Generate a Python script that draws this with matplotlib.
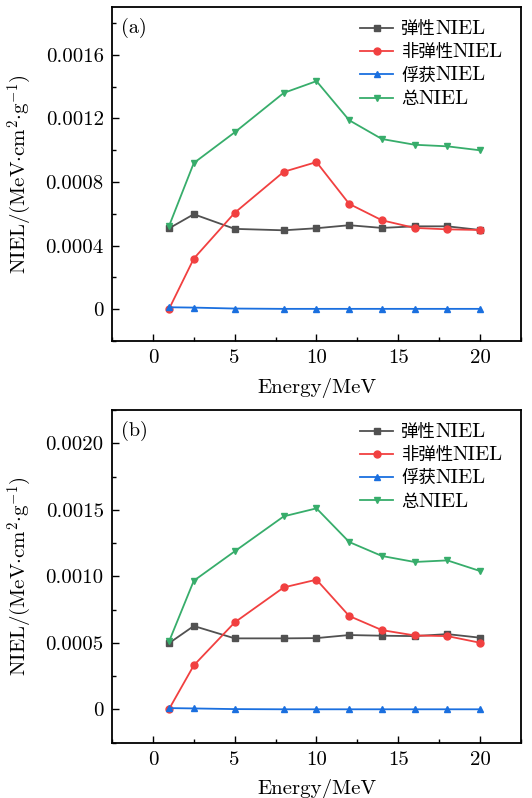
import matplotlib
matplotlib.use("Agg")
import matplotlib.pyplot as plt
from matplotlib.ticker import MultipleLocator, FuncFormatter
from matplotlib.transforms import IdentityTransform

plt.rcParams['font.family'] = ['cmr10', 'DejaVu Serif']
plt.rcParams['mathtext.fontset'] = 'cm'
plt.rcParams['axes.unicode_minus'] = False
plt.rcParams['axes.formatter.use_mathtext'] = True

energy = [1, 2.5, 5, 8, 10, 12, 14, 16, 18, 20]
label_cn = ['弹性', '非弹性', '俘获', '总']
label_suffix = 'NIEL'

# panel (a)
a_elastic = [0.000509, 0.000597, 0.000505, 0.000496, 0.000509, 0.000528, 0.000511, 0.000521, 0.000521, 0.000498]
a_inelastic = [0.000004, 0.000318, 0.000606, 0.000864, 0.000925, 0.000662, 0.000559, 0.000511, 0.000502, 0.000498]
a_capture = [0.000012, 0.000010, 0.000004, 0.000002, 0.000002, 0.000002, 0.000002, 0.000002, 0.000002, 0.000002]
a_total = [0.000526, 0.000919, 0.001112, 0.001360, 0.001434, 0.001188, 0.001070, 0.001034, 0.001024, 0.000999]

# panel (b)
b_elastic = [0.000499, 0.000627, 0.000534, 0.000534, 0.000536, 0.000559, 0.000554, 0.000551, 0.000566, 0.000539]
b_inelastic = [0.000005, 0.000331, 0.000654, 0.000917, 0.000975, 0.000702, 0.000596, 0.000556, 0.000551, 0.000501]
b_capture = [0.000010, 0.0000075, 0.0000025, 0.000001, 0.000001, 0.000001, 0.000001, 0.000001, 0.000001, 0.000001]
b_total = [0.000514, 0.000967, 0.001188, 0.001451, 0.001511, 0.001258, 0.001153, 0.001108, 0.001120, 0.001040]

colors = ['#515151', '#F14040', '#1A6FDF', '#37AD6B']
markers = ['s', 'o', '^', 'v']

fig = plt.figure(figsize=(5.32, 7.98), dpi=100)
ax_a = fig.add_axes([0.2105, 0.5727, 0.7688, 0.4185])
ax_b = fig.add_axes([0.2105, 0.0693, 0.7688, 0.4169])

def fmt(v, pos):
    if abs(v) < 1e-12:
        return '0'
    return '%.4f' % v

panels = [
    (ax_a, [a_elastic, a_inelastic, a_capture, a_total], '(a)', (-0.0002, 0.0019), 0.0004, 0.0002),
    (ax_b, [b_elastic, b_inelastic, b_capture, b_total], '(b)', (-0.00025, 0.00225), 0.0005, 0.00025),
]

legends = []
for ax, series, tag, ylim, major, minor in panels:
    for ys, c, m, lab in zip(series, colors, markers, label_cn):
        ax.plot(energy, ys, color=c, marker=m, markersize=5, linewidth=1.3, label=lab)
    ax.set_xlim(-2.5, 22.5)
    ax.set_ylim(*ylim)
    ax.xaxis.set_major_locator(MultipleLocator(5))
    ax.xaxis.set_minor_locator(MultipleLocator(2.5))
    ax.yaxis.set_major_locator(MultipleLocator(major))
    ax.yaxis.set_minor_locator(MultipleLocator(minor))
    ax.yaxis.set_major_formatter(FuncFormatter(fmt))
    ax.xaxis.set_major_formatter(FuncFormatter(lambda v, p: '%d' % v))
    ax.tick_params(which='both', direction='in', top=False, right=False, labelsize=15, width=1.0)
    ax.tick_params(which='major', length=5, pad=6)
    ax.tick_params(which='minor', length=3)
    for s in ax.spines.values():
        s.set_linewidth(1.3)
    ax.set_xlabel('Energy/MeV', fontsize=15)
    ax.xaxis.set_label_coords(0.5, -0.11)
    ax.set_ylabel(r'NIEL/(MeV$\cdot$cm$^2$$\cdot$g$^{-1}$)', fontsize=15)
    ax.yaxis.set_label_coords(-0.19, 0.5)
    ax.text(0.022, 0.937, tag, transform=ax.transAxes, fontsize=14.5, va='center', ha='left')
    leg = ax.legend(loc='upper left', bbox_to_anchor=(0.59, 0.982), frameon=False,
                    prop={'family': ['Noto Sans CJK SC'], 'size': 12.5},
                    handlelength=1.9, handletextpad=0.45, labelspacing=0.3, borderaxespad=0.0)
    legends.append(leg)

fig.canvas.draw()
renderer = fig.canvas.get_renderer()
for leg in legends:
    for t in leg.get_texts():
        bb = t.get_window_extent(renderer)
        x0, y0 = t.get_transform().transform(t.get_unitless_position())
        fig.text(bb.x1 - 0.5, y0, label_suffix, transform=IdentityTransform(),
                 fontsize=15, family=['cmr10'], va='baseline', ha='left')

fig.savefig('out.png', dpi=100)
